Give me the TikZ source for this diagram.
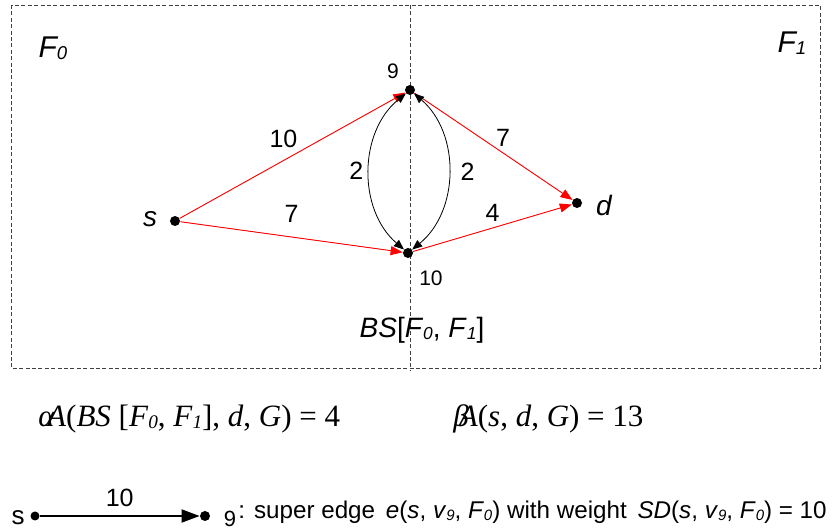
\documentclass[tikz,border=0pt]{standalone}
\usepackage{fontspec}
\setmainfont{Liberation Sans}
\newfontfamily\timesfont{Liberation Serif}
\usetikzlibrary{arrows.meta,positioning}

\newcommand{\sub}[1]{\raisebox{-0.15ex}{\scalebox{0.62}{\itshape #1}}}

\begin{document}
\begin{tikzpicture}[x=0.5pt, y=-0.5pt,
    vertex/.style={circle, fill=black, inner sep=0pt, minimum size=5pt},
    vlabel/.style={font=\fontsize{10.5}{12}\selectfont, inner sep=1pt},
    wlabel/.style={font=\fontsize{12.5}{14}\selectfont, inner sep=1pt},
    region/.style={draw=black!75, line width=0.4pt, dash pattern=on 2pt off 1.2pt},
    fedge/.style={-{Triangle[length=6pt, width=4.5pt]}, draw=red, fill=red, line width=0.45pt},
    bedge/.style={{Triangle[length=5pt, width=4pt]}-{Triangle[length=5pt, width=4pt]}, line width=0.4pt},
    formula/.style={anchor=west, font=\timesfont\fontsize{15.5}{18}\selectfont, inner sep=0pt}
]
    \useasboundingbox (0,0) rectangle (837,529);

    \draw[region] (11,5) rectangle (820,368);
    \draw[region] (410,5) -- (410,370);

    \node[font=\fontsize{15}{18}\selectfont\itshape] (fzero) at (53,48) {F\sub{0}};
    \node[font=\fontsize{15}{18}\selectfont\itshape] (fone) at (792,43) {F\sub{1}};

    \node[vertex] (s) at (175,221) {};
    \node[vertex] (v9) at (410,90) {};
    \node[vertex] (v10) at (408,253) {};
    \node[vertex] (d) at (577,203) {};

    \node[wlabel, font=\fontsize{14}{16}\selectfont\itshape] (slabel) at (150,219) {s};
    \node[wlabel, font=\fontsize{14}{16}\selectfont\itshape] (dlabel) at (604,206) {d};
    \node[vlabel] (nine) at (393,71) {9};
    \node[vlabel] (ten) at (431,278) {10};

    \draw[fedge] (s) -- node[wlabel, pos=0.46, above=5pt] (wsnine) {10} (v9);
    \draw[fedge] (s) -- node[wlabel, pos=0.5, above=6pt] (wsten) {7} (v10);
    \draw[fedge] (v9) -- node[wlabel, pos=0.56, above=2pt] (wnined) {7} (d);
    \draw[fedge] (v10) -- node[wlabel, pos=0.5, above=2pt] (wtend) {4} (d);

    \draw[bedge] (v9) to[bend right=50] node[wlabel, left=2pt] (wleft) {2} (v10);
    \draw[bedge] (v9) to[bend left=50] node[wlabel, right=5pt] (wright) {2} (v10);

    \node[font=\fontsize{14}{16}\selectfont] (bs) at (422,330) {\textit{BS}[\textit{F}\sub{0}, \textit{F}\sub{1}]};

    \node[formula] (alphaeq) at (38,419) {\textit{α}\kern-4pt\textit{A}(\textit{BS} [\textit{F}\sub{0}, \textit{F}\sub{1}], \textit{d}, \textit{G}) = 4};
    \node[formula] (betaeq) at (453,419) {\textit{β}\kern-5pt\textit{A}(\textit{s}, \textit{d}, \textit{G}) = 13};

    \node[vertex, minimum size=4.5pt] (ls) at (35,516) {};
    \node[vertex] (lnine) at (205,516) {};
    \node[font=\fontsize{13}{15}\selectfont] (lslabel) at (18,518) {s};
    \draw[-{Triangle[length=9pt, width=6.5pt]}, line width=0.9pt] (ls) -- node[wlabel, above=3pt] (lw) {10} (lnine);
    \node[font=\fontsize{11}{13}\selectfont] (lninelabel) at (230,519) {9};
    \node[anchor=west, font=\fontsize{12.1}{15}\selectfont, inner sep=0pt] (legend) at (238,512)
        {: super edge \,\textit{e}(\textit{s}, \textit{v}\sub{9}, \textit{F}\sub{0}) with weight \,\textit{SD}(\textit{s}, \textit{v}\sub{9}, \textit{F}\sub{0}) = 10};
\end{tikzpicture}
\end{document}
